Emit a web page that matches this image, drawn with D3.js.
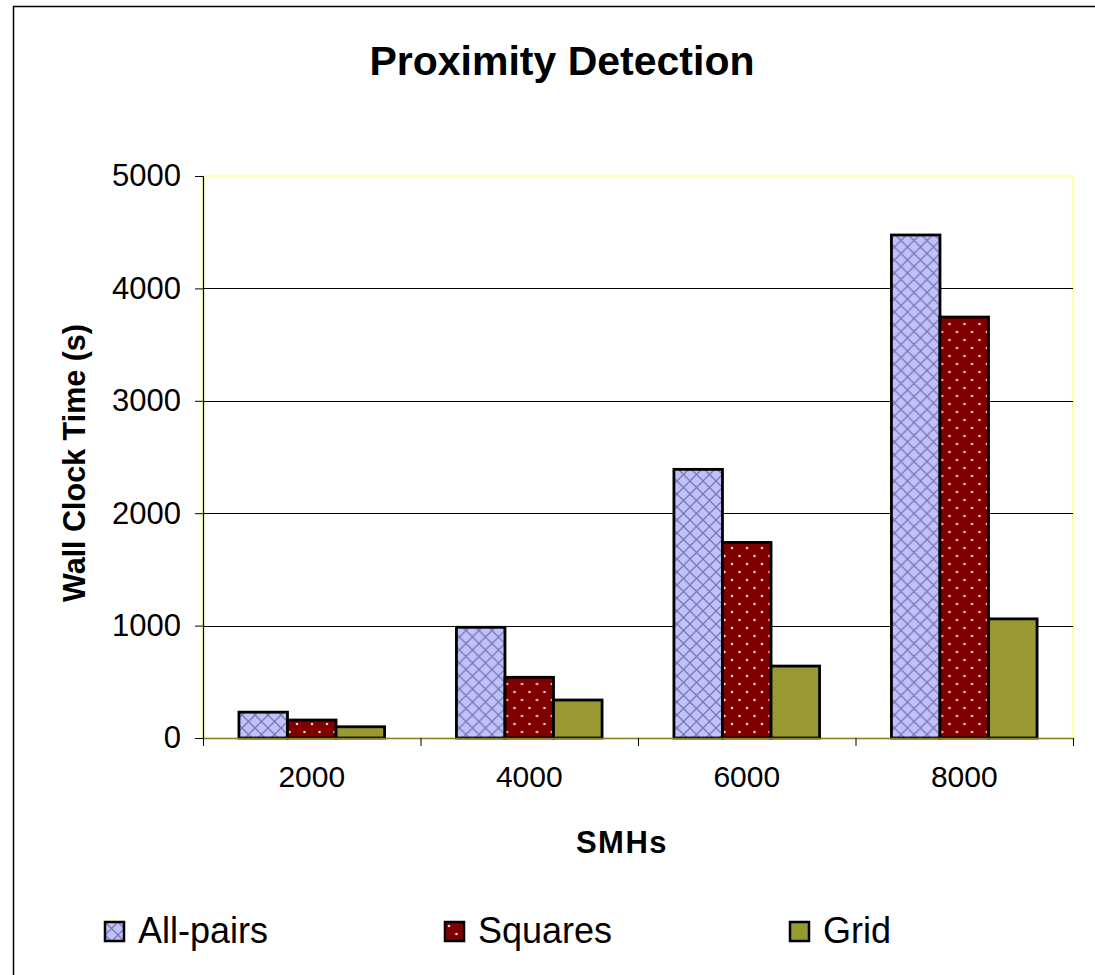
<!DOCTYPE html>
<html>
<head>
<meta charset="utf-8">
<script src="https://cdn.jsdelivr.net/npm/d3@7"></script>
<style>
  html, body { margin: 0; padding: 0; background: #fff; }
  svg { display: block; font-family: "Liberation Sans", Arial, sans-serif; }
</style>
</head>
<body>
<svg id="chart" width="1095" height="975"></svg>
<script>
// Proximity detection timings per SMH count
const categories = ["2000", "4000", "6000", "8000"];
const seriesNames = ["All-pairs", "Squares", "Grid"];
const allPairs = [230, 985, 2390, 4475];
const squares  = [160, 540, 1740, 3745];
const grid     = [100, 338, 640, 1060];
const yTicks   = [0, 1000, 2000, 3000, 4000, 5000];

const seriesValues = [allPairs, squares, grid];
const fills = ["url(#hatch)", "url(#dots)", "#999933"];

const svg = d3.select("#chart");
const W = 1095, H = 975;
const plot = { left: 203, right: 1073, top: 176, bottom: 738 };

// Outer chart frame (extends past the right/bottom edges)
svg.append("rect")
  .attr("x", 13.5).attr("y", 6.5)
  .attr("width", W + 20).attr("height", H + 20)
  .attr("fill", "#fff").attr("stroke", "#000").attr("stroke-width", 1.5);

// Fill patterns
const defs = svg.append("defs");
const hatch = defs.append("pattern")
  .attr("id", "hatch").attr("patternUnits", "userSpaceOnUse")
  .attr("width", 13).attr("height", 13);
hatch.append("rect").attr("width", 13).attr("height", 13).attr("fill", "#c0c0ff");
hatch.append("path").attr("d", "M0,0 L13,13 M13,0 L0,13 M-1,12 L1,14 M12,-1 L14,1")
  .attr("stroke", "#7a7aa8").attr("stroke-width", 1.3).attr("fill", "none");

const dots = defs.append("pattern")
  .attr("id", "dots").attr("patternUnits", "userSpaceOnUse")
  .attr("width", 15).attr("height", 16);
dots.append("rect").attr("width", 15).attr("height", 16).attr("fill", "#800000");
dots.append("circle").attr("cx", 4).attr("cy", 4).attr("r", 1.3).attr("fill", "#f4d0d0");
dots.append("circle").attr("cx", 11.5).attr("cy", 12).attr("r", 1.3).attr("fill", "#f4d0d0");

// Scales
const x0 = d3.scaleBand().domain(categories).range([plot.left, plot.right]).paddingInner(0).paddingOuter(0);
const x1 = d3.scaleBand().domain(seriesNames).range([0, x0.bandwidth()]).paddingInner(0).paddingOuter(0.74);
const y = d3.scaleLinear().domain([0, 5000]).range([plot.bottom, plot.top]);

// Plot area border (pale yellow)
svg.append("rect")
  .attr("x", plot.left).attr("y", plot.top)
  .attr("width", plot.right - plot.left).attr("height", plot.bottom - plot.top)
  .attr("fill", "#fff").attr("stroke", "#ffffb0").attr("stroke-width", 2.5);

// Horizontal gridlines
svg.append("g")
  .selectAll("line")
  .data(yTicks.filter(d => d > 0 && d < 5000))
  .join("line")
  .attr("x1", plot.left).attr("x2", plot.right)
  .attr("y1", d => Math.round(y(d)) + 0.5).attr("y2", d => Math.round(y(d)) + 0.5)
  .attr("stroke", "#000").attr("stroke-width", 1);

// Bars
const groups = svg.append("g")
  .selectAll("g")
  .data(categories)
  .join("g")
  .attr("transform", d => `translate(${x0(d)},0)`);

groups.selectAll("rect")
  .data((c, i) => seriesNames.map((s, k) => ({ s, k, v: seriesValues[k][i] })))
  .join("rect")
  .attr("x", d => x1(d.s))
  .attr("y", d => y(d.v))
  .attr("width", x1.bandwidth())
  .attr("height", d => y(0) - y(d.v))
  .attr("fill", d => fills[d.k])
  .attr("stroke", "#000")
  .attr("stroke-width", 2.8);

// Y axis
const yAxis = d3.axisLeft(y).tickValues(yTicks).tickSize(8).tickPadding(14).tickFormat(d3.format("d"));
const gy = svg.append("g").attr("transform", `translate(${plot.left},0)`).call(yAxis);
gy.select(".domain").attr("stroke", "#000").attr("stroke-width", 1.2);
gy.selectAll(".tick line").attr("stroke", "#000");
gy.selectAll(".tick text").attr("font-size", 31).attr("fill", "#000")
  .attr("font-family", "'Liberation Sans', Arial, sans-serif");

// X axis
const xAxis = d3.axisBottom(x0).tickSize(0).tickPadding(28);
const gx = svg.append("g").attr("transform", `translate(0,${plot.bottom})`).call(xAxis);
gx.select(".domain").attr("stroke", "#7f7f2a").attr("stroke-width", 1.5);
gx.selectAll(".tick text").attr("font-size", 30).attr("fill", "#000")
  .attr("font-family", "'Liberation Sans', Arial, sans-serif");

// Category boundary ticks
const bounds = categories.map(c => x0(c)).concat([plot.right]);
svg.append("g").selectAll("line").data(bounds).join("line")
  .attr("x1", d => d + 0.5).attr("x2", d => d + 0.5)
  .attr("y1", plot.bottom).attr("y2", plot.bottom + 8)
  .attr("stroke", "#000").attr("stroke-width", 1);

// Title and axis titles
svg.append("text")
  .attr("x", 562).attr("y", 75)
  .attr("text-anchor", "middle")
  .attr("font-size", 41).attr("font-weight", "bold")
  .text("Proximity Detection");

svg.append("text")
  .attr("transform", "translate(85,463) rotate(-90)")
  .attr("text-anchor", "middle")
  .attr("font-size", 30.5).attr("font-weight", "bold")
  .text("Wall Clock Time (s)");

svg.append("text")
  .attr("x", 622).attr("y", 853)
  .attr("text-anchor", "middle")
  .attr("font-size", 31).attr("font-weight", "bold")
  .attr("letter-spacing", 1.5)
  .text("SMHs");

// Legend
const legendX = [105, 445, 790];
const legend = svg.append("g").selectAll("g")
  .data(seriesNames)
  .join("g")
  .attr("transform", (d, i) => `translate(${legendX[i]},922)`);
legend.append("rect")
  .attr("width", 19).attr("height", 19)
  .attr("fill", (d, i) => fills[i])
  .attr("stroke", "#000").attr("stroke-width", 2.5);
legend.append("text")
  .attr("x", 33).attr("y", 21)
  .attr("font-size", 36)
  .text(d => d);
</script>
</body>
</html>
